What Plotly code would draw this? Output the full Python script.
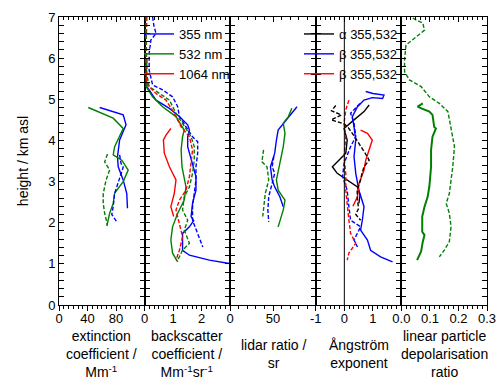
import plotly.graph_objects as go

# ---------------- data ----------------
# extinction coefficient / Mm^-1
ext355_h = [4.80, 4.62, 4.38, 4.01, 3.60, 3.36, 3.04, 2.71, 2.35]
ext355_v = [57, 90, 94, 85, 82, 83, 90, 95, 96]
ext532_h = [4.80, 4.54, 4.29, 4.09, 3.85, 3.65, 3.52, 3.28, 3.00, 2.72, 2.47, 2.23, 1.92]
ext532_v = [41, 76, 90, 85, 78, 76, 88, 97, 90, 78, 76, 71, 67]
ext355d_h = [3.65, 3.44, 3.35, 3.10, 2.86, 2.71, 2.39, 2.20, 2.02]
ext355d_v = [85, 87, 90, 85, 81, 78, 76, 74, 81]
ext532d_h = [3.67, 3.48, 3.28, 3.04, 2.71, 2.47, 2.23, 1.94]
ext532d_v = [68, 64, 71, 66, 62, 62, 64, 68]

# backscatter coefficient / Mm^-1 sr^-1
bsc355_h = [6.00, 5.60, 5.30, 5.23, 4.98, 4.78, 4.58, 4.38, 4.25, 4.09, 3.85, 3.44, 3.12, 2.79, 2.47, 2.15, 2.05, 1.90, 1.74, 1.33, 1.21, 1.09, 1.01]
bsc355_v = [0.08, 0.06, 0.08, 0.16, 0.40, 0.87, 1.22, 1.51, 1.57, 1.51, 1.51, 1.68, 1.80, 1.80, 1.68, 1.63, 1.72, 1.57, 1.33, 1.33, 1.57, 2.27, 2.97]
bsc532_h = [6.00, 5.60, 5.31, 5.06, 4.82, 4.58, 4.25, 4.09, 3.77, 3.36, 2.87, 2.55, 2.23, 1.90, 1.58, 1.26, 1.05]
bsc532_v = [0.06, 0.05, 0.05, 0.28, 0.63, 1.10, 1.39, 1.33, 1.28, 1.31, 1.45, 1.39, 1.16, 0.98, 0.92, 0.98, 1.16]
bsc1064_h = [4.29, 4.13, 4.01, 3.69, 3.36, 3.04, 2.71, 2.39, 2.15]
bsc1064_v = [0.92, 0.75, 0.66, 0.69, 0.87, 1.10, 1.04, 0.92, 1.02]
bsc355d_h = [7.00, 6.77, 6.60, 6.44, 6.12, 5.71, 5.35, 5.23, 5.06, 4.82, 4.58, 4.33, 4.09, 3.97, 3.69, 3.36, 3.04, 2.71, 2.39, 2.06, 1.74, 1.41]
bsc355d_v = [0.28, 0.33, 0.40, 0.22, 0.16, 0.16, 0.28, 0.63, 0.98, 1.16, 1.22, 1.45, 1.68, 1.86, 1.86, 1.80, 1.80, 1.74, 1.68, 1.68, 1.86, 2.04]
bsc532d_h = [7.00, 6.50, 6.00, 5.60, 5.31, 5.14, 4.98, 4.66, 4.42, 4.09, 3.85, 3.52, 3.20, 2.87, 2.63, 2.31, 2.06, 1.82, 1.50, 1.33, 1.09]
bsc532d_v = [0.08, 0.06, 0.07, 0.08, 0.16, 0.51, 0.87, 1.10, 1.33, 1.63, 1.74, 1.74, 1.68, 1.57, 1.39, 1.33, 1.51, 1.39, 1.57, 1.33, 1.16]
bsc1064d_h = [7.00, 6.50, 6.00, 5.60, 5.35, 5.14, 4.98, 4.66, 4.33, 4.09, 3.77, 3.44, 3.12, 2.79, 2.55, 2.31, 1.98, 1.66, 1.33, 1.09]
bsc1064d_v = [0.05, 0.03, 0.04, 0.05, 0.10, 0.40, 0.75, 1.04, 1.28, 1.57, 1.68, 1.63, 1.57, 1.45, 1.22, 1.10, 1.22, 1.33, 1.22, 1.10]

# lidar ratio / sr
lr355_h = [4.82, 4.66, 4.46, 4.25, 4.01, 3.69, 3.36, 3.04, 2.87, 2.63, 2.39]
lr355_v = [78, 72, 64, 56, 54, 52, 47, 49, 52, 58, 62]
lr532_h = [4.78, 4.58, 4.42, 4.17, 3.85, 3.44, 3.04, 2.79, 2.55, 2.31, 2.06, 1.90]
lr532_v = [72, 68, 62, 64, 62, 58, 54, 56, 64, 62, 58, 56]
lr355d_h = [3.61, 3.36, 3.20, 2.96, 2.63, 2.31, 2.02]
lr355d_v = [51, 49, 52, 49, 45, 44, 45]
lr532d_h = [3.77, 3.48, 3.36, 3.04, 2.71, 2.39, 2.15]
lr532d_v = [39, 37, 43, 45, 41, 39, 38]

# Angstrom exponent
aext_h = [4.86, 4.70, 4.50, 4.29, 4.01, 3.69, 3.52, 3.36, 3.20, 3.04, 2.87, 2.67, 2.47]
aext_v = [0.87, 0.69, 0.34, -0.01, 0.10, 0.05, -0.19, -0.42, -0.25, 0.10, 0.46, 0.55, 0.51]
absc355_h = [5.19, 5.14, 5.10, 5.02, 5.04, 4.98, 4.82, 4.58, 4.33, 4.01, 3.61, 3.20, 2.79, 2.39, 2.06, 1.82, 1.58, 1.33, 1.17, 1.05]
absc355_v = [0.75, 1.00, 1.39, 1.34, 0.98, 0.69, 0.46, 0.28, 0.34, 0.40, 0.34, 0.40, 0.51, 0.69, 0.63, 0.57, 0.81, 0.92, 1.27, 1.69]
absc532_h = [4.25, 4.17, 4.01, 3.77, 3.52, 3.28, 2.95, 2.63, 2.40]
absc532_v = [0.57, 0.81, 0.98, 0.86, 0.75, 0.69, 0.51, 0.46, 0.30]
aextd_h = [4.85, 4.72, 4.62, 4.50, 4.40, 4.30, 4.10, 3.90, 3.70, 3.52, 3.36, 3.20, 3.04, 2.80, 2.55, 2.35, 2.20, 2.06]
aextd_v = [-0.30, -0.45, -0.10, -0.46, 0.00, 0.15, 0.35, 0.55, 0.72, 0.87, 0.69, 0.62, 0.57, 0.45, 0.46, 0.50, 0.40, 0.57]
absc355d_h = [4.90, 4.66, 4.42, 4.09, 3.85, 3.44, 3.12, 2.79, 2.39, 2.06, 1.90, 1.74, 1.58, 1.41]
absc355d_v = [0.55, 0.22, 0.34, 0.40, 0.22, -0.01, -0.06, 0.10, 0.16, 0.22, 0.57, 0.45, 0.34, 0.46]
absc532d_h = [4.98, 4.74, 4.42, 4.09, 3.61, 3.20, 2.79, 2.39, 2.06, 1.74, 1.50, 1.26, 1.09]
absc532d_v = [0.16, 0.05, -0.01, 0.05, -0.01, 0.05, 0.05, 0.10, 0.16, 0.22, 0.40, 0.16, 0.10]

# linear particle depolarisation ratio
dep_h = [4.90, 4.82, 4.78, 4.70, 4.62, 4.33, 4.29, 4.09, 3.77, 3.36, 2.88, 2.63, 2.39, 2.15, 1.78, 1.70, 1.54, 1.30, 1.09]
dep_v = [0.075, 0.057, 0.070, 0.098, 0.109, 0.115, 0.121, 0.109, 0.104, 0.104, 0.098, 0.092, 0.081, 0.073, 0.073, 0.081, 0.075, 0.069, 0.055]
depd_h = [6.97, 6.85, 6.68, 6.52, 6.32, 5.96, 5.67, 5.47, 5.31, 5.06, 4.90, 4.70, 4.33, 3.85, 3.36, 2.71, 2.47, 2.23, 1.90, 1.54, 1.34, 1.17]
depd_v = [0.040, 0.075, 0.081, 0.051, 0.016, 0.011, 0.011, 0.028, 0.069, 0.098, 0.133, 0.163, 0.174, 0.186, 0.180, 0.168, 0.157, 0.168, 0.174, 0.168, 0.151, 0.133]

# axis setup
x_ranges = [[0, 120], [0, 3], [0, 100], [-1, 2], [0, 0.3]]
x_tickvals = [[0, 40, 80], [0, 1, 2], [0, 50], [-1, 0, 1], [0.0, 0.1, 0.2, 0.3]]
x_ticktext = [["0", "40", "80"], ["0", "1", "2"], ["0", "50"], ["-1", "0", "1"], ["0.0", "0.1", "0.2", "0.3"]]
x_minor = [40 / 6, 1 / 6, 10, 1 / 6, 0.1 / 6]
x_titles = ["extinction<br>coefficient /<br>Mm<sup>-1</sup>",
            "backscatter<br>coefficient /<br>Mm<sup>-1</sup>sr<sup>-1</sup>",
            "lidar ratio /<br>sr",
            "Ångström<br>exponent",
            "linear particle<br>depolarisation<br>ratio"]
legend1_names = ["355 nm", "532 nm", "1064 nm"]
legend2_names = ["α 355,532", "β 355,532", "β 355,532"]

BLUE, GREEN, RED, BLACK = "#0000FF", "#008000", "#FF0000", "#000000"
DASH = "4px,2px"
FONT = "Liberation Sans, Arial, sans-serif"

fig = go.Figure()


def add(xv, yv, ax, color, dashed=False, name=None, legend=None, width=1.4):
    fig.add_trace(go.Scatter(
        x=xv, y=yv, mode="lines", xaxis=ax, yaxis="y",
        line=dict(color=color, width=width, dash=DASH if dashed else "solid"),
        name=name if name else "profile", showlegend=name is not None,
        legend=legend or "legend", hoverinfo="skip"))


# panel 1
add(ext355_v, ext355_h, "x", BLUE)
add(ext532_v, ext532_h, "x", GREEN)
add(ext355d_v, ext355d_h, "x", BLUE, True)
add(ext532d_v, ext532d_h, "x", GREEN, True)
# panel 2
add(bsc355_v, bsc355_h, "x2", BLUE, name=legend1_names[0], legend="legend")
add(bsc532_v, bsc532_h, "x2", GREEN, name=legend1_names[1], legend="legend")
add(bsc1064_v, bsc1064_h, "x2", RED, name=legend1_names[2], legend="legend")
add(bsc355d_v, bsc355d_h, "x2", BLUE, True)
add(bsc532d_v, bsc532d_h, "x2", GREEN, True)
add(bsc1064d_v, bsc1064d_h, "x2", RED, True)
# panel 3
add(lr355_v, lr355_h, "x3", BLUE)
add(lr532_v, lr532_h, "x3", GREEN)
add(lr355d_v, lr355d_h, "x3", BLUE, True)
add(lr532d_v, lr532d_h, "x3", GREEN, True)
# panel 4
add(aext_v, aext_h, "x4", BLACK, name=legend2_names[0], legend="legend2")
add(absc355_v, absc355_h, "x4", BLUE, name=legend2_names[1], legend="legend2")
add(absc532_v, absc532_h, "x4", RED, name=legend2_names[2], legend="legend2")
add(aextd_v, aextd_h, "x4", BLACK, True)
add(absc355d_v, absc355d_h, "x4", BLUE, True)
add(absc532d_v, absc532d_h, "x4", RED, True)
# panel 5
add(dep_v, dep_h, "x5", GREEN, width=2)
add(depd_v, depd_h, "x5", GREEN, True)

# placeholder traces so the top (inside-tick) axes are drawn
for i in range(5):
    fig.add_trace(go.Scatter(x=[None], y=[None], xaxis=f"x{i + 6}", yaxis="y",
                             name="top axis", showlegend=False, hoverinfo="skip"))

n = 5
layout = dict(
    width=500, height=379,
    margin=dict(l=59, r=13, t=17, b=74, autoexpand=False),
    paper_bgcolor="white", plot_bgcolor="white",
    font=dict(family=FONT, size=13, color="black"),
    showlegend=True,
    yaxis=dict(range=[0, 7], dtick=1, tick0=0, showgrid=False, zeroline=False,
               showline=True, linecolor="black", linewidth=1, automargin=False,
               ticks="inside", ticklen=5, tickcolor="black", mirror="allticks",
               minor=dict(dtick=0.2, ticks="inside", ticklen=3, tickcolor="black"),
               title=dict(text="height / km asl", font=dict(size=14), standoff=16),
               tickfont=dict(size=13)),
    legend=dict(x=(139 - 59) / 428, y=(305 - 19) / 288, xanchor="left", yanchor="top",
                bgcolor="rgba(0,0,0,0)", font=dict(size=13), itemwidth=30,
                tracegroupgap=0),
    legend2=dict(x=(299 - 59) / 428, y=(305 - 19) / 288, xanchor="left", yanchor="top",
                 bgcolor="rgba(0,0,0,0)", font=dict(size=13), itemwidth=30,
                 tracegroupgap=0),
    shapes=[dict(type="line", xref="x4", yref="y", x0=0, x1=0, y0=0, y1=7,
                 line=dict(color="black", width=1))],
    annotations=[],
)
for i in range(n):
    dom = [i / n, (i + 1) / n]
    key = "xaxis" if i == 0 else f"xaxis{i + 1}"
    layout[key] = dict(
        domain=dom, range=x_ranges[i], anchor="y", automargin=False,
        tickmode="array", tickvals=x_tickvals[i], ticktext=x_ticktext[i],
        showgrid=False, zeroline=False, showline=True, linecolor="black", linewidth=1,
        ticks="outside", ticklen=5, tickcolor="black", ticklabelstandoff=-4,
        minor=dict(tickmode="linear", tick0=x_ranges[i][0], dtick=x_minor[i],
                   ticks="outside", ticklen=3, tickcolor="black"),
        tickfont=dict(size=13),
    )
    layout[f"xaxis{i + 6}"] = dict(
        overlaying="x" if i == 0 else f"x{i + 1}", side="top", anchor="y",
        range=x_ranges[i], tickmode="array", tickvals=x_tickvals[i], automargin=False,
        showticklabels=False, showgrid=False, zeroline=False, showline=True,
        linecolor="black", linewidth=1,
        ticks="inside", ticklen=5, tickcolor="black",
        minor=dict(tickmode="linear", tick0=x_ranges[i][0], dtick=x_minor[i],
                   ticks="inside", ticklen=3, tickcolor="black"),
    )
    layout["annotations"].append(dict(
        text=x_titles[i], xref=("x" if i == 0 else f"x{i + 1}") + " domain", x=0.5,
        yref="paper", y=(305 - 354) / 288, xanchor="center", yanchor="middle",
        showarrow=False, font=dict(size=14)))

fig.update_layout(**layout)
fig.write_html("out.html", config={"displayModeBar": False},
               post_script="document.body.style.margin='0';")
